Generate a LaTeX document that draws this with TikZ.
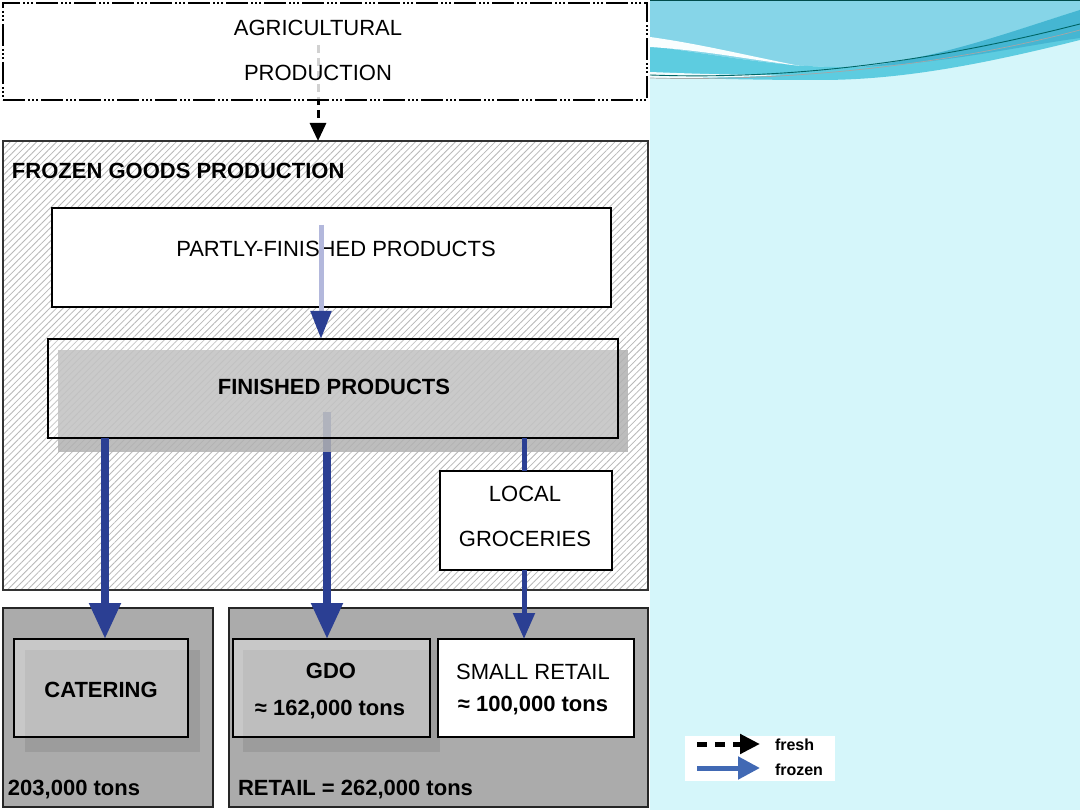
\documentclass[tikz,border=0pt]{standalone}
\usepackage{fontspec}
\setmainfont{Liberation Sans}
\usetikzlibrary{arrows.meta,patterns.meta,calc}
\definecolor{frz}{HTML}{2B3F93}
\definecolor{frzlight}{HTML}{B3B8DC}
\definecolor{legblue}{HTML}{4169B4}
\definecolor{cyanbg}{HTML}{D5F6FA}
\definecolor{wavetop}{HTML}{86D5E8}
\definecolor{waveband}{HTML}{5DCCE0}
\definecolor{wavedark}{HTML}{45B6D2}
\definecolor{outgray}{HTML}{ABABAB}
\definecolor{shadgray}{HTML}{9C9C9C}
\tikzset{
  boxnode/.style={rectangle, draw=black, line width=2pt, inner sep=0pt, outer sep=0pt},
  outbox/.style={boxnode, draw=black!85, fill=outgray},
  txt/.style={inner sep=0pt, outer sep=0pt, anchor=base, font=\fontsize{22}{26}\selectfont},
  btxt/.style={txt, font=\fontsize{22}{26}\selectfont\bfseries},
  ltxt/.style={inner sep=0pt, outer sep=0pt, anchor=base west, font=\fontsize{16}{19}\selectfont\bfseries},
  frozenarr/.style={draw=frz, line width=8pt, -{Triangle[width=30pt,length=36pt,color=frz]}},
  thinarr/.style={draw=frz, line width=5pt, -{Triangle[width=21pt,length=26pt,color=frz]}},
  freshdash/.style={draw=black, line width=3pt, dash pattern=on 8pt off 5pt, -{Triangle[width=16pt,length=18pt,color=black]}}
}
\begin{document}
\begin{tikzpicture}[x=1pt,y=-1pt]
\useasboundingbox (0,0) rectangle (1080,810);
% backgrounds
\fill[white] (0,0) rectangle (650,810);
\fill[cyanbg] (650,0) rectangle (1080,810);
% wave
\fill[wavetop] (650,0) -- (1080,0) -- (1080,10) .. controls (1000,35) and (920,66) .. (850,67) .. controls (780,68) and (720,55) .. (650,46) -- cycle;
\fill[waveband] (650,46) .. controls (720,55) and (780,68) .. (850,67) .. controls (920,66) and (1000,35) .. (1080,10) -- (1080,40) .. controls (980,65) and (900,80) .. (820,80) .. controls (740,80) and (690,78) .. (650,77) -- cycle;
\fill[wavedark] (1080,10) .. controls (1010,32) and (940,58) .. (860,67) .. controls (950,63) and (1020,46) .. (1080,38) -- cycle;
\fill[white!85!cyanbg] (650,37) .. controls (700,44) and (740,54) .. (800,66) .. controls (740,58) and (700,50) .. (650,47) -- cycle;
\fill[white!70!cyanbg] (650,72) .. controls (700,74) and (740,75) .. (780,75) .. controls (730,78) and (690,78) .. (650,78) -- cycle;
\draw[teal!80!black, line width=0.9pt] (650,75) .. controls (760,79) and (900,70) .. (1080,24);
\draw[gray!70, line width=0.7pt] (650,78) .. controls (760,81) and (920,72) .. (1080,30);
\draw[teal!60!black, line width=1.2pt] (650,0.6) -- (1080,0.6);

% frozen goods production container
\node[boxnode, draw=black!80, fill=white, minimum width=645pt, minimum height=449pt] (frozen) at (325.5,365.5) {};
\fill[pattern={Lines[angle=45,distance=4.7pt,line width=0.8pt]}, pattern color=black!28]
  ([shift={(1pt,1pt)}]frozen.south west) rectangle ([shift={(-1pt,-1pt)}]frozen.north east);
\draw[black!80, line width=2pt] (frozen.south west) rectangle (frozen.north east);
\node[btxt, anchor=base west] (tfrozen) at (12,179) {FROZEN GOODS PRODUCTION};

% fresh arrow from agricultural production
\coordinate (fstart) at (318,45);
\draw[freshdash] (fstart) -- (fstart |- frozen.north);
\node[boxnode, fill=white, fill opacity=0.82, minimum width=644pt, minimum height=97pt,
  dash pattern=on 22pt off 3pt on 2pt off 2pt on 2pt off 2pt on 2pt off 3pt, line width=2.5pt] (agri) at (325,51.5) {};
\node[txt] (tagri1) at (318,36) {AGRICULTURAL};
\node[txt] (tagri2) at (318,81) {PRODUCTION};

% partly-finished products
\node[boxnode, fill=white, minimum width=559pt, minimum height=99pt] (partly) at (331.5,257.5) {};
\node[txt] (tpartly) at (336,257) {PARTLY-FINISHED PRODUCTS};

% local groceries
\node[boxnode, fill=white, minimum width=172pt, minimum height=99pt] (local) at (526,520.5) {};
\node[txt] (tlocal1) at (525,501) {LOCAL};
\node[txt] (tlocal2) at (525,546) {GROCERIES};

% bottom containers
\node[outbox, minimum width=210pt, minimum height=199pt] (catout) at (108,707.5) {};
\node[outbox, minimum width=419pt, minimum height=199pt] (retout) at (438.5,707.5) {};
\node[btxt, anchor=base west] (tcatsum) at (8,795) {203,000 tons};
\node[btxt, anchor=base west] (tretsum) at (238,795) {RETAIL = 262,000 tons};

% catering
\fill[shadgray] (25,650) rectangle (200,752);
\node[boxnode, fill=white, fill opacity=0.35, minimum width=174pt, minimum height=98pt] (catin) at (101,688) {};
\node[btxt] (tcat) at (101,697) {CATERING};

% GDO
\fill[shadgray] (243,650) rectangle (440,752);
\node[boxnode, fill=white, fill opacity=0.35, minimum width=197pt, minimum height=98pt] (gdo) at (331.5,688) {};
\node[btxt] (tgdo1) at (331,678) {GDO};
\node[btxt] (tgdo2) at (330,715) {≈ 162,000 tons};

% small retail
\node[boxnode, fill=white, minimum width=196pt, minimum height=98pt] (small) at (536,688) {};
\node[txt] (tsmall1) at (533,679) {SMALL RETAIL};
\node[btxt] (tsmall2) at (533,711) {≈ 100,000 tons};

% finished products: centre arrow under the shadow, then shadow, then box
\coordinate (cmid) at (327,412);
\draw[frozenarr] (cmid) -- (cmid |- gdo.north);
\fill[black!30, fill opacity=0.85] (58,350) rectangle (628,452);
\node[boxnode, fill=white, fill opacity=0.2, minimum width=570pt, minimum height=99pt] (finished) at (333,388.5) {};
\node[btxt] (tfinished) at (334,395) {FINISHED PRODUCTS};

% partly -> finished
\coordinate (pstart) at (321,225);
\draw[draw=frzlight, line width=5pt, -{Triangle[width=20pt,length=28pt,color=frz]}] (pstart) -- (pstart |- finished.north);

% frozen arrows over the shadow
\coordinate (cleft) at (105,0);
\coordinate (cright) at (524,0);
\draw[frozenarr] (finished.south -| cleft) -- (catin.north -| cleft);
\draw[draw=frz, line width=5pt] (finished.south -| cright) -- (local.north -| cright);
\draw[thinarr] (local.south -| cright) -- (small.north -| cright);

% legend
\node[rectangle, fill=white, inner sep=0pt, minimum width=150pt, minimum height=45pt] (legend) at (760,758.5) {};
\coordinate (lf1) at (697,744);
\coordinate (lf2) at (760,744);
\coordinate (lz1) at (697,768);
\coordinate (lz2) at (760,768);
\draw[draw=black, line width=5pt, dash pattern=on 10pt off 8pt, -{Triangle[width=19pt,length=20pt,color=black]}] (lf1) -- (lf2);
\draw[draw=legblue, line width=5pt, -{Triangle[width=22pt,length=22pt,color=legblue]}] (lz1) -- (lz2);
\node[ltxt] (tfresh) at (775,750) {fresh};
\node[ltxt] (tfrozenl) at (775,775) {frozen};
\end{tikzpicture}
\end{document}
